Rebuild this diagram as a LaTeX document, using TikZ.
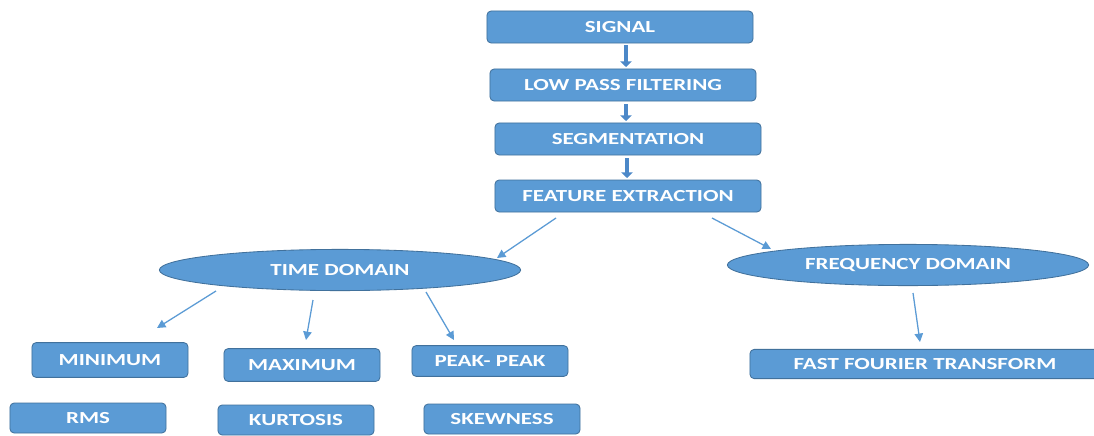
\documentclass[tikz,border=0pt]{standalone}
\usepackage{fontspec}
\setmainfont{Carlito}[FakeStretch=1.36]
\usetikzlibrary{shapes.geometric,arrows.meta}

\definecolor{boxblue}{HTML}{5B9BD5}
\definecolor{boxedge}{HTML}{41719C}
\definecolor{arrowblue}{HTML}{4C88C8}

\begin{document}
\begin{tikzpicture}[x=0.025cm, y=-0.025cm]
  % styles
  \tikzset{
    bigbox/.style={rectangle, rounded corners=3pt, fill=boxblue, draw=boxedge, line width=0.6pt,
      minimum width=6.65cm, minimum height=0.8cm, text=white, font=\fontsize{12}{14}\selectfont\bfseries},
    smallbox/.style={bigbox, minimum width=3.9cm, minimum height=0.8cm},
    dom/.style={ellipse, fill=boxblue, draw=boxedge, line width=0.6pt,
      minimum width=9.03cm, minimum height=1.03cm, inner sep=0pt, text=white, font=\fontsize{12}{14}\selectfont\bfseries},
    fat/.style={draw=arrowblue, line width=3pt, -{Triangle[length=4pt,width=8pt]}},
    thin/.style={draw=boxblue, line width=0.9pt, -{Triangle[length=6pt,width=6pt]}}
  }

  \clip (0,0) rectangle (1094,435);
  \fill[white] (0,0) rectangle (1094,435);

  % main chain
  \node[bigbox] (signal) at (620,27) {SIGNAL};
  \node[bigbox] (lpf) at (623,85) {LOW PASS FILTERING};
  \node[bigbox] (seg) at (628,139) {SEGMENTATION};
  \node[bigbox] (feat) at (628,196) {FEATURE EXTRACTION};

  % domains
  \node[dom] (time) at (340,270) {TIME DOMAIN};
  \node[dom] (freq) at (908,265) {FREQUENCY DOMAIN};

  % time domain features
  \node[smallbox, minimum height=0.87cm] (min) at (110,360) {MINIMUM};
  \node[smallbox, minimum height=0.82cm] (max) at (302,365) {MAXIMUM};
  \node[smallbox, minimum height=0.77cm] (peak) at (490,361) {PEAK- PEAK};
  \node[smallbox, minimum height=0.75cm] (rms) at (88,418) {RMS};
  \node[smallbox, minimum height=0.75cm] (kurt) at (296,420) {KURTOSIS};
  \node[smallbox, minimum height=0.75cm] (skew) at (502,419) {SKEWNESS};

  % frequency domain feature
  \node[bigbox, minimum width=8.75cm, minimum height=0.73cm] (fft) at (925,364) {FAST FOURIER TRANSFORM};

  % ends of the block arrows
  \coordinate (b1) at (626,45);
  \coordinate (b2) at (626,67);
  \coordinate (b3) at (626,104);
  \coordinate (b4) at (626,121);
  \coordinate (b5) at (627,158);
  \coordinate (b6) at (627,178);

  % block arrows
  \draw[fat] (b1) -- (b2);
  \draw[fat] (b3) -- (b4);
  \draw[fat] (b5) -- (b6);

  % ends of the thin arrows
  \coordinate (ft1) at (556,218);
  \coordinate (ft2) at (497,258);
  \coordinate (ff1) at (712,218);
  \coordinate (ff2) at (771,249);
  \coordinate (tmin1) at (216,291);
  \coordinate (tmin2) at (157,328);
  \coordinate (tmax1) at (313,300);
  \coordinate (tmax2) at (306,340);
  \coordinate (tpk1) at (426,292);
  \coordinate (tpk2) at (454,340);
  \coordinate (fq1) at (913,293);
  \coordinate (fq2) at (920,342);

  % thin arrows
  \draw[thin] (ft1) -- (ft2);
  \draw[thin] (ff1) -- (ff2);
  \draw[thin] (tmin1) -- (tmin2);
  \draw[thin] (tmax1) -- (tmax2);
  \draw[thin] (tpk1) -- (tpk2);
  \draw[thin] (fq1) -- (fq2);
\end{tikzpicture}
\end{document}
